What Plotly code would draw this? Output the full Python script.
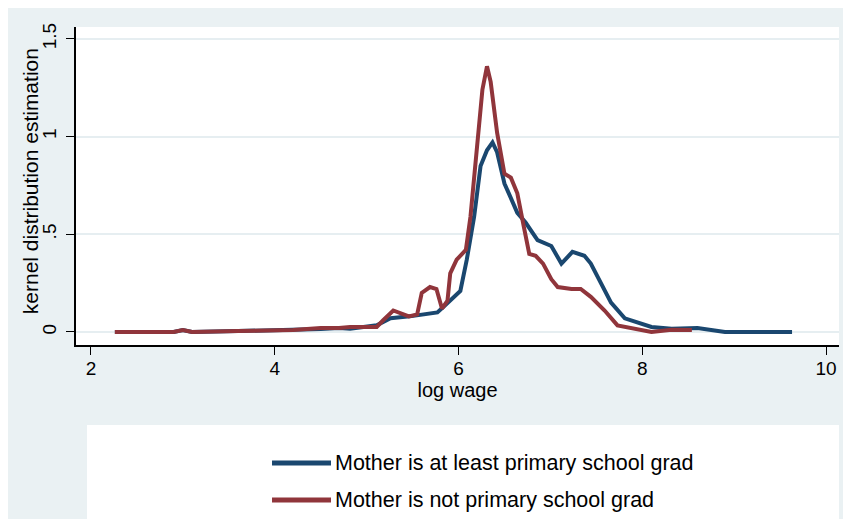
import plotly.graph_objects as go

# Mother is at least primary school grad (blue)
x_blue = [2.26, 2.9, 3.0, 3.1, 3.6, 4.2, 4.5, 4.7, 4.82, 5.11, 5.26, 5.47, 5.62, 5.77, 5.84, 5.95, 6.02,
          6.09, 6.17, 6.24, 6.31, 6.37, 6.42, 6.50, 6.57, 6.64, 6.73, 6.86, 7.01, 7.12, 7.24,
          7.37, 7.44, 7.55, 7.66, 7.81, 7.95, 8.1, 8.32, 8.6, 8.9, 9.3, 9.63]
y_blue = [0.0, 0.0, 0.01, 0.0, 0.005, 0.01, 0.015, 0.02, 0.017, 0.034, 0.07, 0.08, 0.09, 0.10, 0.13, 0.18, 0.21,
          0.37, 0.59, 0.85, 0.93, 0.97, 0.92, 0.76, 0.69, 0.61, 0.56, 0.47, 0.44, 0.35, 0.41,
          0.39, 0.35, 0.25, 0.15, 0.07, 0.05, 0.026, 0.017, 0.02, 0.0, 0.0, 0.0]

# Mother is not primary school grad (red)
x_red = [2.26, 2.9, 3.0, 3.1, 3.6, 4.2, 4.5, 4.7, 4.82, 5.11, 5.18, 5.29, 5.46, 5.55, 5.60, 5.69, 5.76, 5.82,
         5.88, 5.91, 5.98, 6.08, 6.13, 6.20, 6.26, 6.31, 6.35, 6.42, 6.50, 6.57, 6.64,
         6.71, 6.77, 6.84, 6.92, 7.01, 7.08, 7.23, 7.33, 7.44, 7.59, 7.73, 7.92, 8.1, 8.32, 8.54]
y_red = [0.0, 0.0, 0.01, 0.0, 0.005, 0.01, 0.02, 0.02, 0.026, 0.026, 0.06, 0.11, 0.08, 0.09, 0.20, 0.23, 0.22, 0.12,
         0.16, 0.30, 0.37, 0.42, 0.59, 0.93, 1.24, 1.36, 1.28, 1.02, 0.81, 0.79, 0.71,
         0.54, 0.40, 0.39, 0.35, 0.27, 0.23, 0.22, 0.22, 0.18, 0.11, 0.034, 0.017, 0.0, 0.012, 0.01]

series_names = ["Mother is at least primary school grad", "Mother is not primary school grad"]

x_ticks = [2, 4, 6, 8, 10]
y_ticks = [0, 0.5, 1, 1.5]
y_tick_labels = ["0", ".5", "1", "1.5"]

FONT = "Liberation Sans, Arial, sans-serif"
BG = "#EAF1F3"
BLUE = "#1A476F"
RED = "#90353B"
colors = [BLUE, RED]

fig = go.Figure()
fig.add_trace(go.Scatter(x=x_blue, y=y_blue, mode="lines", name=series_names[0],
                         line=dict(color=BLUE, width=4)))
fig.add_trace(go.Scatter(x=x_red, y=y_red, mode="lines", name=series_names[1],
                         line=dict(color=RED, width=4)))

# white legend panel
fig.add_shape(type="rect", xref="paper", yref="paper", x0=0.0144, x1=1.0, y0=-0.6, y1=-0.2516,
              fillcolor="white", line=dict(width=0), layer="below")

# legend entries (line sample + label)
legend_y = [-0.3711, -0.4874]
for name, col, ly in zip(series_names, colors, legend_y):
    fig.add_shape(type="line", xref="paper", yref="paper", x0=0.2569, x1=0.3342, y0=ly, y1=ly,
                  line=dict(color=col, width=5))
    fig.add_annotation(xref="paper", yref="paper", x=0.3368, y=ly, text=name, showarrow=False,
                       xanchor="left", yanchor="middle", font=dict(size=21.5, color="black"))

# y axis title
fig.add_annotation(xref="paper", yref="paper", x=-0.0603, y=0.515, text="kernel distribution estimation",
                   showarrow=False, textangle=-90, xanchor="center", yanchor="middle",
                   font=dict(size=21, color="black"))

fig.update_layout(
    width=851, height=519,
    margin=dict(l=68, r=20, t=19, b=182),
    paper_bgcolor=BG, plot_bgcolor="white",
    font=dict(family=FONT, color="black", size=19),
    showlegend=False,
    xaxis=dict(range=[1.837, 10.141], tickvals=x_ticks, showgrid=False, zeroline=False, automargin=False,
               showline=True, linecolor="black", linewidth=1.5, ticks="outside", ticklen=8,
               tickcolor="black", tickfont=dict(size=19), ticklabelstandoff=-3,
               title=dict(text="log wage", standoff=0, font=dict(size=20))),
    yaxis=dict(range=[-0.0666, 1.561], tickvals=y_ticks, ticktext=y_tick_labels, tickangle=-90, automargin=False,
               showgrid=True, gridcolor="#E6EEF1", gridwidth=1.5, zeroline=False,
               showline=True, linecolor="black", linewidth=1.5, ticks="outside", ticklen=8,
               tickcolor="black", tickfont=dict(size=19), ticklabelstandoff=3),
)

fig.write_html("out.html")
